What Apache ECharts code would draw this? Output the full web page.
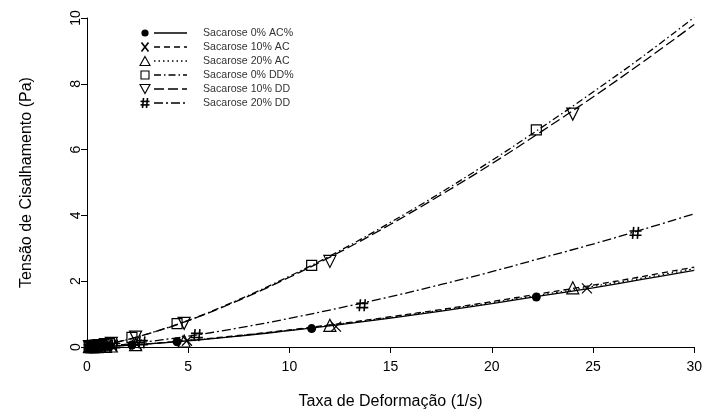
<!DOCTYPE html>
<html>
<head>
<meta charset="utf-8">
<script src="https://cdn.jsdelivr.net/npm/echarts@6/dist/echarts.min.js"></script>
<style>
html,body{margin:0;padding:0;background:#fff;}
#chart{width:705px;height:416px;}
</style>
</head>
<body>
<div id="chart"></div>
<script>
// Shear rate grid for the fitted curves (1/s)
var curveX = [0, 1, 2.5, 5, 7.5, 10, 12.5, 15, 17.5, 20, 22.5, 25, 27.5, 30];

// Fitted curves, shear stress (Pa)
var fitAC0  = [0, 0.020, 0.072, 0.19, 0.33, 0.50, 0.68, 0.88, 1.09, 1.32, 1.56, 1.80, 2.06, 2.33];
var fitAC10 = [0, 0.021, 0.075, 0.20, 0.35, 0.52, 0.71, 0.92, 1.14, 1.38, 1.63, 1.88, 2.15, 2.43];
var fitAC20 = [0, 0.020, 0.074, 0.195, 0.34, 0.51, 0.70, 0.90, 1.12, 1.35, 1.59, 1.84, 2.10, 2.38];
var fitDD0  = [0, 0.086, 0.31, 0.81, 1.44, 2.15, 2.93, 3.79, 4.70, 5.67, 6.69, 7.75, 8.85, 10.02];
var fitDD10 = [0, 0.085, 0.31, 0.80, 1.42, 2.12, 2.89, 3.73, 4.63, 5.57, 6.57, 7.60, 8.68, 9.80];
var fitDD20 = [0, 0.035, 0.125, 0.33, 0.58, 0.87, 1.19, 1.53, 1.90, 2.29, 2.71, 3.13, 3.58, 4.05];

// Measured points: shear rate (1/s) and shear stress (Pa)
var ptsAC0x  = [0.11, 0.22, 0.28, 0.45, 0.56, 0.84, 1.11, 2.22, 4.45, 11.1, 22.2];
var ptsAC0y  = [0.01, 0.01, 0.01, 0.01, 0.01, 0.02, 0.02, 0.06, 0.16, 0.56, 1.52];
var ptsAC10x = [0.12, 0.24, 0.31, 0.50, 0.62, 0.93, 1.23, 2.46, 4.94, 12.3, 24.7];
var ptsAC10y = [0.01, 0.01, 0.01, 0.01, 0.02, 0.02, 0.03, 0.07, 0.19, 0.62, 1.78];
var ptsAC20x = [0.12, 0.24, 0.30, 0.49, 0.60, 0.91, 1.20, 2.40, 4.80, 12.0, 24.0];
var ptsAC20y = [0.01, 0.01, 0.01, 0.01, 0.02, 0.02, 0.03, 0.07, 0.18, 0.66, 1.80];
var ptsDD0x  = [0.11, 0.22, 0.28, 0.45, 0.56, 0.84, 1.11, 2.22, 4.45, 11.1, 22.2];
var ptsDD0y  = [0.01, 0.01, 0.02, 0.03, 0.04, 0.07, 0.10, 0.29, 0.71, 2.48, 6.60];
var ptsDD10x = [0.12, 0.24, 0.30, 0.49, 0.60, 0.91, 1.20, 2.40, 4.80, 12.0, 24.0];
var ptsDD10y = [0.01, 0.01, 0.02, 0.03, 0.04, 0.07, 0.11, 0.30, 0.72, 2.60, 7.08];
var ptsDD20x = [0.13, 0.27, 0.34, 0.55, 0.68, 1.02, 1.35, 2.71, 5.43, 13.6, 27.1];
var ptsDD20y = [0.01, 0.01, 0.01, 0.02, 0.02, 0.04, 0.05, 0.14, 0.36, 1.27, 3.47];

var seriesNames = ['Sacarose 0% AC%', 'Sacarose 10% AC', 'Sacarose 20% AC',
                   'Sacarose 0% DD%', 'Sacarose 10% DD', 'Sacarose 20% DD'];

var FONT = '"Liberation Sans", Arial, sans-serif';

// Marker shapes
var SYM_X    = 'path://M0,0 L10,10 M10,0 L0,10';
var SYM_HASH = 'path://M3.5,0 L2.5,10 M7.5,0 L6.5,10 M0,3.5 L10,3.5 M0,7 L10,7';
var SYM_TRI  = 'path://M5,0 L10,9 L0,9 Z';
var SYM_DTRI = 'path://M0,0 L10,0 L5,9 Z';
var SYM_SQ   = 'path://M0,0 L10,0 L10,10 L0,10 Z';

var styles = [
  {sym: 'circle', size: 9,  fill: '#000', dash: 'solid'},
  {sym: SYM_X,    size: 10, fill: 'none', dash: [6, 4]},
  {sym: SYM_TRI,  size: 12, fill: 'none', dash: [1.5, 3]},
  {sym: SYM_SQ,   size: 10, fill: 'none', dash: [7, 3, 1.5, 3]},
  {sym: SYM_DTRI, size: 12, fill: 'none', dash: [10, 4]},
  {sym: SYM_HASH, size: 12, fill: 'none', dash: [9, 3, 2, 3]}
];

var fits = [fitAC0, fitAC10, fitAC20, fitDD0, fitDD10, fitDD20];
var ptsX = [ptsAC0x, ptsAC10x, ptsAC20x, ptsDD0x, ptsDD10x, ptsDD20x];
var ptsY = [ptsAC0y, ptsAC10y, ptsAC20y, ptsDD0y, ptsDD10y, ptsDD20y];

function zip(a, b) { return a.map(function (v, i) { return [v, b[i]]; }); }

var series = [];
fits.forEach(function (f, i) {
  series.push({
    name: seriesNames[i],
    type: 'line',
    data: zip(curveX, f),
    smooth: 0.4,
    showSymbol: false,
    silent: true,
    lineStyle: {color: '#000', width: 1.3, type: styles[i].dash},
    z: 2
  });
});
ptsX.forEach(function (xs, i) {
  var s = styles[i];
  series.push({
    name: seriesNames[i] + ' pts',
    type: 'scatter',
    data: zip(xs, ptsY[i]),
    symbol: s.sym,
    symbolSize: s.size,
    clip: false,
    itemStyle: {
      color: s.fill,
      borderColor: '#000',
      borderWidth: i === 0 ? 0 : (i === 5 ? 1.6 : 1.2),
      opacity: 1
    },
    z: 3
  });
});

// Key in the upper left: marker, line sample, label
var STROKE = {fill: 'none', stroke: '#000', lineWidth: 1.1};
var STROKE_B = {fill: 'none', stroke: '#000', lineWidth: 1.6};
function keyMarker(i, cx, cy) {
  var h = 4.5;
  switch (i) {
    case 0: return [{type: 'circle', shape: {cx: cx, cy: cy, r: 3.6}, style: {fill: '#000'}}];
    case 1: return [
      {type: 'line', shape: {x1: cx - 3.5, y1: cy - h, x2: cx + 3.5, y2: cy + h}, style: STROKE_B},
      {type: 'line', shape: {x1: cx + 3.5, y1: cy - h, x2: cx - 3.5, y2: cy + h}, style: STROKE_B}];
    case 2: return [{type: 'polygon', shape: {points: [[cx, cy - h], [cx + h + 0.5, cy + h], [cx - h - 0.5, cy + h]]}, style: STROKE}];
    case 3: return [{type: 'rect', shape: {x: cx - 4, y: cy - 4, width: 8, height: 8}, style: STROKE}];
    case 4: return [{type: 'polygon', shape: {points: [[cx - h - 0.5, cy - h], [cx + h + 0.5, cy - h], [cx, cy + h]]}, style: STROKE}];
    default: return [
      {type: 'line', shape: {x1: cx - 1.5, y1: cy - h - 0.5, x2: cx - 2.5, y2: cy + h + 0.5}, style: STROKE_B},
      {type: 'line', shape: {x1: cx + 2.5, y1: cy - h - 0.5, x2: cx + 1.5, y2: cy + h + 0.5}, style: STROKE_B},
      {type: 'line', shape: {x1: cx - 4.5, y1: cy - 1.6, x2: cx + 4.5, y2: cy - 1.6}, style: STROKE_B},
      {type: 'line', shape: {x1: cx - 4.5, y1: cy + 1.9, x2: cx + 4.5, y2: cy + 1.9}, style: STROKE_B}];
  }
}
var legendGraphics = [];
var legendTop = 33, legendStep = 14;
seriesNames.forEach(function (name, i) {
  var y = legendTop + i * legendStep;
  var s = styles[i];
  legendGraphics = legendGraphics.concat(keyMarker(i, 145, y));
  legendGraphics.push({
    type: 'line',
    shape: {x1: 154, y1: y, x2: 187, y2: y},
    style: {stroke: '#000', lineWidth: 1.3, lineDash: s.dash === 'solid' ? null : s.dash}
  });
  legendGraphics.push({
    type: 'text',
    x: 203, y: y,
    style: {text: name, font: '10.6px ' + FONT, fill: '#333', verticalAlign: 'middle'}
  });
});

var chart = echarts.init(document.getElementById('chart'), null, {renderer: 'canvas'});
chart.setOption({
  animation: false,
  backgroundColor: '#fff',
  grid: {left: 87, right: 10, top: 18, bottom: 69},
  xAxis: {
    type: 'value',
    min: 0, max: 30, interval: 5,
    name: 'Taxa de Deformação (1/s)',
    nameLocation: 'middle',
    nameGap: 47,
    nameTextStyle: {fontFamily: FONT, fontSize: 16, color: '#000'},
    axisLine: {show: true, onZero: false, lineStyle: {color: '#000', width: 1}},
    axisTick: {show: true, inside: false, length: 6, lineStyle: {color: '#000'}},
    axisLabel: {fontFamily: FONT, fontSize: 14, color: '#000', margin: 13},
    splitLine: {show: false}
  },
  yAxis: {
    type: 'value',
    min: 0, max: 10, interval: 2,
    name: 'Tensão de Cisalhamento (Pa)',
    nameLocation: 'middle',
    nameGap: 52,
    nameTextStyle: {fontFamily: FONT, fontSize: 16, color: '#000'},
    axisLine: {show: true, onZero: false, lineStyle: {color: '#000', width: 1}},
    axisTick: {show: true, inside: false, length: 6, lineStyle: {color: '#000'}},
    axisLabel: {fontFamily: FONT, fontSize: 14, color: '#000', rotate: 90, margin: 4},
    splitLine: {show: false}
  },
  graphic: legendGraphics,
  series: series
});
</script>
</body>
</html>
